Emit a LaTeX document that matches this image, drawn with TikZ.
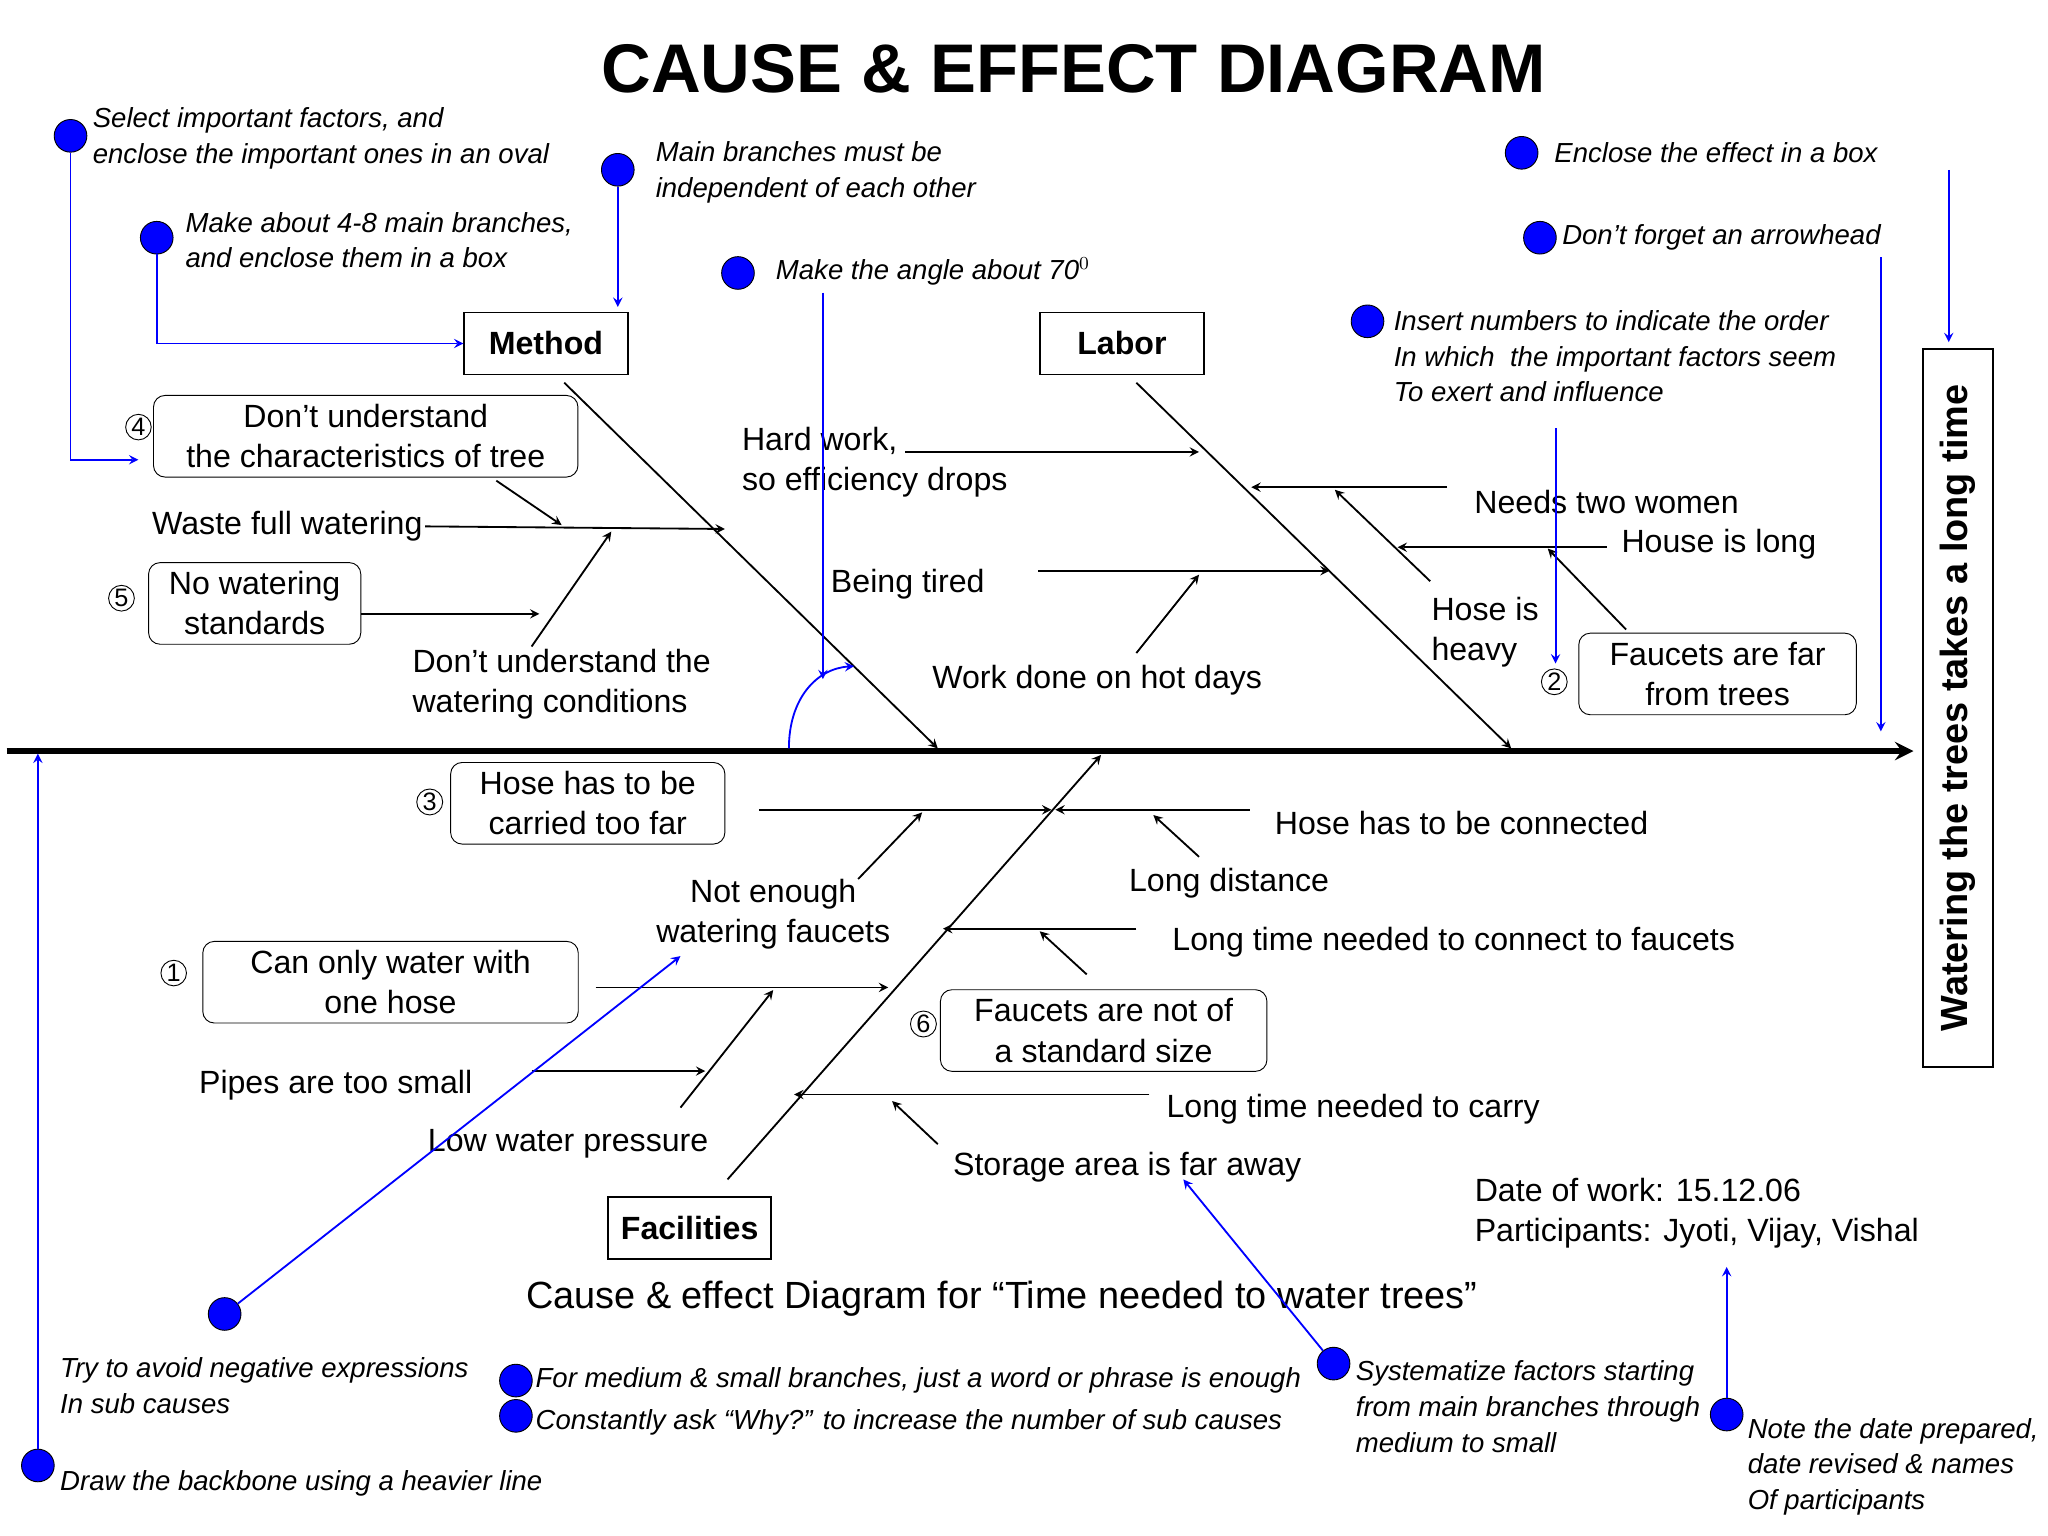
\documentclass[tikz,border=0pt]{standalone}
\usepackage{fontspec}
\setmainfont{Liberation Sans}
\begin{document}
\begin{tikzpicture}[x=0.02cm, y=-0.02cm,
            txt/.style={font=\fontsize{14}{17.5}\selectfont, align=center, inner sep=1pt},
            ltxt/.style={font=\fontsize{14}{17.5}\selectfont, align=left, anchor=west, inner sep=1pt},
            cause/.style={draw, rounded corners=5pt, font=\fontsize{14}{17.5}\selectfont, align=center, inner sep=2pt, minimum height=1.25cm},
            main/.style={draw, thick, font=\bfseries\fontsize{14}{16}\selectfont, minimum width=2.5cm, minimum height=0.95cm},
            num/.style={draw, circle, inner sep=0.5pt, font=\fontsize{11}{12}\selectfont},
            note/.style={font=\itshape\fontsize{12}{15.5}\selectfont, align=left, anchor=west, inner sep=1pt},
            dot/.style={circle, fill=blue, draw=black, minimum size=0.5cm, inner sep=0pt},
            arrow/.style={->, thick, >=stealth},
            tip/.style={->, blue, thick, >=stealth}
        ]
            \useasboundingbox (0,0) rectangle (1568,1176);
            % Title
            \node[font=\bfseries\fontsize{30}{34}\selectfont] (title) at (822,53) {CAUSE \& EFFECT DIAGRAM};
            
            % Backbone and effect
            \coordinate (tail) at (5,575);
            \coordinate (head) at (1465,575);
            \draw[->, line width=2.5pt, >=stealth] (tail) -- (head);
            \node[draw, thick, rotate=90, minimum width=11cm, minimum height=1.08cm, font=\bfseries\fontsize{16.5}{18}\selectfont] (effect) at (1499,542) {Watering the trees takes a long time};
            
            % Main branches
            \node[main] (method) at (418,263) {Method};
            \node[main] (labor) at (859,263) {Labor};
            \node[main] (facil) at (528,940) {Facilities};
            \coordinate (m1) at (432,293); \coordinate (m2) at (718,573);
            \coordinate (l1) at (870,293); \coordinate (l2) at (1157,573);
            \coordinate (f1) at (557,903); \coordinate (f2) at (843,578);
            \draw[arrow] (m1) -- (m2);
            \draw[arrow] (l1) -- (l2);
            \draw[arrow] (f1) -- (f2);
            
            % Method causes
            \node[cause, minimum width=6.5cm] (c4) at (280,334) {Don't understand\\the characteristics of tree};
            \node[num] (n4) at (106,327) {4};
            \coordinate (a1) at (380,368); \coordinate (a2) at (430,402);
            \draw[arrow] (a1) -- (a2);
            \node[txt] (waste) at (220,403) {Waste full watering};
            \coordinate (a3) at (555,405);
            \draw[arrow] (waste.east) -- (a3);
            \node[cause, minimum width=3.25cm] (c5) at (195,462) {No watering\\standards};
            \node[num] (n5) at (93,458) {5};
            \coordinate (a4) at (413,470);
            \draw[arrow] (c5.east |- a4) -- (a4);
            \node[txt, align=left] (cond) at (430,524) {Don't understand the\\watering conditions};
            \coordinate (a5) at (407,495); \coordinate (a6) at (468,407);
            \draw[arrow] (a5) -- (a6);
            
            % Labor causes
            \node[ltxt] (hard) at (566,354) {Hard work,\\so efficiency drops};
            \coordinate (b1) at (693,346); \coordinate (b2) at (918,346);
            \draw[arrow] (b1) -- (b2);
            \node[txt] (tired) at (695,447) {Being tired};
            \coordinate (b3) at (795,437); \coordinate (b4) at (1018,437);
            \draw[arrow] (b3) -- (b4);
            \node[txt] (hot) at (840,521) {Work done on hot days};
            \coordinate (b5) at (870,500); \coordinate (b6) at (918,440);
            \draw[arrow] (b5) -- (b6);
            \node[txt] (women) at (1230,384) {Needs two women};
            \coordinate (b7) at (1108,373); \coordinate (b8) at (958,373);
            \draw[arrow] (b7) -- (b8);
            \coordinate (b9) at (1095,445); \coordinate (b10) at (1022,375);
            \draw[arrow] (b9) -- (b10);
            \node[txt] (long) at (1316,417) {House is long};
            \coordinate (b11) at (1230,419); \coordinate (b12) at (1070,419);
            \draw[arrow] (b11) -- (b12);
            \node[txt, align=left] (heavy) at (1137,484) {Hose is\\heavy};
            \node[cause, minimum width=4.25cm] (c2) at (1315,516) {Faucets are far\\from trees};
            \node[num] (n2) at (1190,522) {2};
            \coordinate (b13) at (1245,482); \coordinate (b14) at (1185,420);
            \draw[arrow] (b13) -- (b14);
            
            % Facilities causes
            \node[cause, minimum width=4.2cm] (c3) at (450,615) {Hose has to be\\carried too far};
            \node[num] (n3) at (329,614) {3};
            \coordinate (d1) at (581,620); \coordinate (d2) at (805,620);
            \draw[arrow] (d1) -- (d2);
            \node[txt] (conn) at (1119,630) {Hose has to be connected};
            \coordinate (d3) at (957,620); \coordinate (d4) at (808,620);
            \draw[arrow] (d3) -- (d4);
            \node[txt] (dist) at (941,676) {Long distance};
            \coordinate (d5) at (918,656); \coordinate (d6) at (883,624);
            \draw[arrow] (d5) -- (d6);
            \node[txt] (faucets) at (592,700) {Not enough\\watering faucets};
            \coordinate (d7) at (657,673); \coordinate (d8) at (706,622);
            \draw[arrow] (d7) -- (d8);
            \node[cause, minimum width=5.75cm] (c1) at (299,752) {Can only water with\\one hose};
            \node[num] (n1) at (133,745) {1};
            \coordinate (d9) at (456,756); \coordinate (d10) at (680,756);
            \draw[arrow] (d9) -- (d10);
            \node[txt] (connect) at (1113,721) {Long time needed to connect to faucets};
            \coordinate (d11) at (870,711); \coordinate (d12) at (722,711);
            \draw[arrow] (d11) -- (d12);
            \coordinate (d13) at (832,746); \coordinate (d14) at (796,713);
            \draw[arrow] (d13) -- (d14);
            \node[cause, minimum width=5cm] (c6) at (845,789) {Faucets are not of\\a standard size};
            \node[num] (n6) at (707,784) {6};
            \node[txt] (pipes) at (257,831) {Pipes are too small};
            \coordinate (d15) at (407,820); \coordinate (d16) at (540,820);
            \draw[arrow] (d15) -- (d16);
            \node[txt] (press) at (435,876) {Low water pressure};
            \coordinate (d17) at (521,848); \coordinate (d18) at (592,758);
            \draw[arrow] (d17) -- (d18);
            \node[txt] (carry) at (1036,849) {Long time needed to carry};
            \coordinate (d19) at (880,838); \coordinate (d20) at (608,838);
            \draw[arrow] (d19) -- (d20);
            \node[txt] (store) at (863,894) {Storage area is far away};
            \coordinate (d21) at (718,876); \coordinate (d22) at (683,843);
            \draw[arrow] (d21) -- (d22);
            
            % Caption and data
            \node[txt, font=\fontsize{16.5}{18}\selectfont] (caption) at (767,994) {Cause \& effect Diagram for “Time needed to water trees”};
            \node[ltxt] (date) at (1127,929) {Date of work: 15.12.06\\Participants: Jyoti, Vijay, Vishal};
            
            % Notes
            \node[dot] (p1) at (54,104) {};
            \node[note] (t1) at (69,106) {Select important factors, and\\enclose the important ones in an oval};
            \coordinate (q1) at (106,352);
            \draw[tip] (p1) |- (q1);
            \node[dot] (p2) at (120,182) {};
            \node[note] (t2) at (140,184) {Make about 4-8 main branches,\\and enclose them in a box};
            \draw[tip] (p2) |- (method.west);
            \node[dot] (p3) at (473,130) {};
            \node[note] (t3) at (500,132) {Main branches must be\\independent of each other};
            \coordinate (q3) at (473,235);
            \draw[tip] (p3) -- (q3);
            \node[dot] (p4) at (565,209) {};
            \node[note] (t4) at (592,208) {Make the angle about 70$^0$};
            \coordinate (q4a) at (630,224); \coordinate (q4b) at (630,520);
            \draw[tip] (q4a) -- (q4b);
            \coordinate (q4c) at (604,573); \coordinate (q4d) at (654,510);
            \draw[tip] (q4c) .. controls (604,535) and (625,512) .. (q4d);
            \node[dot] (p5) at (1165,117) {};
            \node[note] (t5) at (1188,117) {Enclose the effect in a box};
            \node[dot] (p6) at (1179,182) {};
            \node[note] (t6) at (1194,182) {Don't forget an arrowhead};
            \coordinate (q6a) at (1440,197); \coordinate (q6b) at (1440,560);
            \draw[tip] (q6a) -- (q6b);
            \coordinate (q6c) at (1492,130); \coordinate (q6d) at (1492,262);
            \draw[tip] (q6c) -- (q6d);
            \node[dot] (p7) at (1047,246) {};
            \node[note] (t7) at (1065,273) {Insert numbers to indicate the order\\In which\ \ the important factors seem\\To exert and influence};
            \coordinate (q7a) at (1191,328); \coordinate (q7b) at (1191,508);
            \draw[tip] (q7a) -- (q7b);
            \node[dot] (p8) at (172,1006) {};
            \node[note] (t8) at (44,1061) {Try to avoid negative expressions\\In sub causes};
            \coordinate (q8) at (521,732);
            \draw[tip] (p8) -- (q8);
            \node[dot] (p9) at (29,1122) {};
            \node[note] (t9) at (44,1136) {Draw the backbone using a heavier line};
            \coordinate (q9) at (29,577);
            \draw[tip] (p9) -- (q9);
            \node[dot] (p10) at (395,1057) {};
            \node[dot] (p11) at (395,1084) {};
            \node[note] (t10) at (408,1057) {For medium \& small branches, just a word or phrase is enough};
            \node[note] (t11) at (408,1089) {Constantly ask “Why?” to increase the number of sub causes};
            \node[dot] (p12) at (1021,1044) {};
            \node[note] (t12) at (1036,1077) {Systematize factors starting\\from main branches through\\medium to small};
            \coordinate (q12) at (906,903);
            \draw[tip] (p12) -- (q12);
            \node[dot] (p13) at (1322,1083) {};
            \node[note] (t13) at (1336,1123) {Note the date prepared,\\date revised \& names\\Of participants};
            \coordinate (q13) at (1322,970);
            \draw[tip] (p13) -- (q13);
        \end{tikzpicture}
\end{document}
